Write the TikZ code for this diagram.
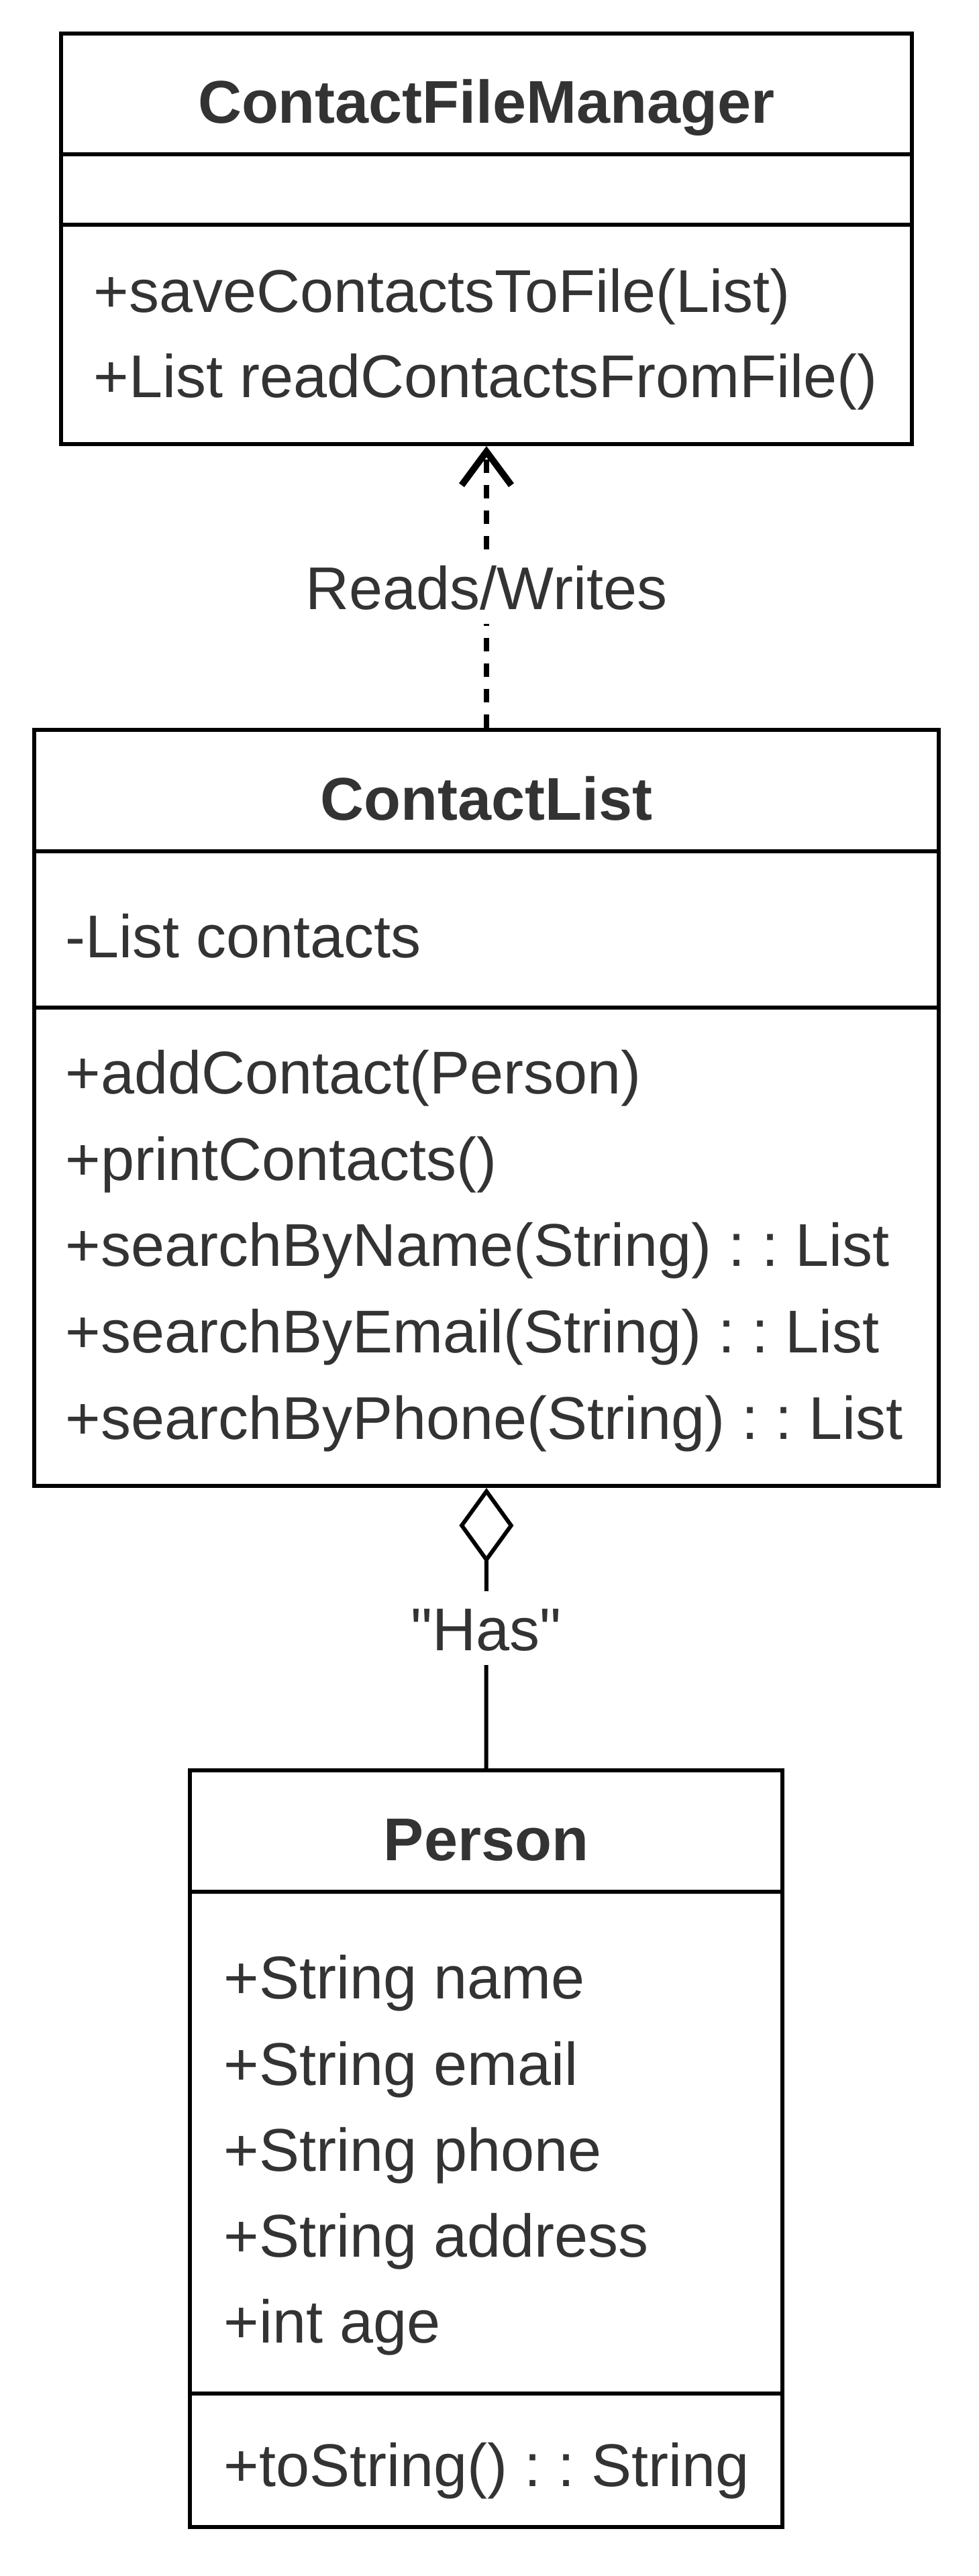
\documentclass[tikz,border=0pt]{standalone}
\usepackage{fontspec}
\setmainfont{Liberation Sans}[Ligatures=TeXOff]
\usepackage{tikz}
\usetikzlibrary{positioning, arrows, arrows.meta}
\definecolor{umltext}{HTML}{333333}
\frenchspacing

\begin{document}
\begin{tikzpicture}[font=\fontsize{25.6pt}{30pt}\selectfont,
	classbox/.style={rectangle, draw, line width=1.7pt, text=umltext, inner sep=0pt},
	classname/.style={classbox, font=\fontsize{25.6pt}{30pt}\selectfont\bfseries, text height=0.88cm, text depth=0cm},
	member/.style={anchor=base west, inner sep=0pt, text=umltext},
	linklabel/.style={fill=white, text=umltext, text height=0.78cm, text depth=0.12cm, inner xsep=0.1cm, inner ysep=0.1cm}]
	
	\useasboundingbox (0,0) rectangle (14.58,-38.40);
	
	%Nodes
	\node (fileManagerName) at (7.25,-1.40) [classname, minimum width=12.68cm, minimum height=1.80cm] {ContactFileManager};
	\node (fileManagerAttr) at (7.25,-2.825) [classbox, minimum width=12.68cm, minimum height=1.05cm] {};
	\node (fileManagerOps) at (7.25,-4.985) [classbox, minimum width=12.68cm, minimum height=3.27cm] {};
	\node (fileManagerOp1) at (1.39,-4.66) [member] {+saveContactsToFile(List)};
	\node (fileManagerOp2) at (1.39,-5.93) [member] {+List readContactsFromFile()};
	
	\node (contactListName) at (7.25,-11.785) [classname, minimum width=13.48cm, minimum height=1.81cm] {ContactList};
	\node (contactListAttr) at (7.25,-13.855) [classbox, minimum width=13.48cm, minimum height=2.33cm] {};
	\node (contactListOps) at (7.25,-18.585) [classbox, minimum width=13.48cm, minimum height=7.13cm] {};
	\node (contactListAttr1) at (0.97,-14.27) [member] {-List contacts};
	\node (contactListOp1) at (0.97,-16.30) [member] {+addContact(Person)};
	\node (contactListOp2) at (0.97,-17.59) [member] {+printContacts()};
	\node (contactListOp3) at (0.97,-18.87) [member] {+searchByName(String) : : List};
	\node (contactListOp4) at (0.97,-20.16) [member] {+searchByEmail(String) : : List};
	\node (contactListOp5) at (0.97,-21.45) [member] {+searchByPhone(String) : : List};
	
	\node (personName) at (7.245,-27.295) [classname, minimum width=8.83cm, minimum height=1.81cm] {Person};
	\node (personAttr) at (7.245,-31.94) [classbox, minimum width=8.83cm, minimum height=7.48cm] {};
	\node (personOps) at (7.245,-36.675) [classbox, minimum width=8.83cm, minimum height=1.99cm] {};
	\node (personAttr1) at (3.33,-29.79) [member] {+String name};
	\node (personAttr2) at (3.33,-31.08) [member] {+String email};
	\node (personAttr3) at (3.33,-32.36) [member] {+String phone};
	\node (personAttr4) at (3.33,-33.64) [member] {+String address};
	\node (personAttr5) at (3.33,-34.92) [member] {+int age};
	\node (personOp1) at (3.33,-37.06) [member] {+toString() : : String};
	
	%Links
	\draw [line width=2pt, dash pattern=on 0.2cm off 0.18cm, -{Straight Barb[length=0.5cm, width=0.74cm, line width=2.8pt]}] (contactListName.north) -- node [linklabel] {Reads/Writes} (fileManagerOps.south);
	\draw [line width=1.7pt, {Diamond[open, length=1.12cm, width=0.81cm]}-] (contactListOps.south) -- node [linklabel] {"Has"} (personName.north);
	
\end{tikzpicture}
\end{document}
